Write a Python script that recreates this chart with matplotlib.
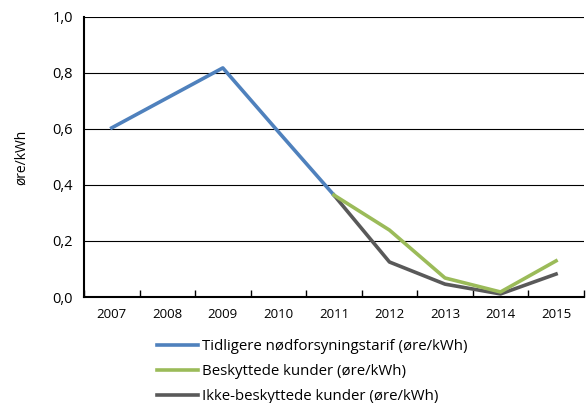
import numpy as np
import matplotlib.pyplot as plt

plt.rcParams['font.family'] = ['Open Sans', 'DejaVu Sans']

years = ['2007', '2008', '2009', '2010', '2011', '2012', '2013', '2014', '2015']
tidligere = [0.604, 0.711, 0.818, 0.59, 0.364, np.nan, np.nan, np.nan, np.nan]
beskyttede = [np.nan, np.nan, np.nan, np.nan, 0.364, 0.239, 0.068, 0.018, 0.129]
ikke_beskyttede = [np.nan, np.nan, np.nan, np.nan, 0.364, 0.125, 0.046, 0.011, 0.082]

fig = plt.figure(figsize=(5.86, 4.03), dpi=100)
ax = fig.add_axes([0.1433, 0.263, 0.853, 0.695])

x = np.arange(len(years))
ax.plot(x, tidligere, color='#4f81bd', lw=2.6, label='Tidligere nødforsyningstarif (øre/kWh)', zorder=3)
ax.plot(x, beskyttede, color='#9bbb59', lw=2.6, label='Beskyttede kunder (øre/kWh)', zorder=3)
ax.plot(x, ikke_beskyttede, color='#595959', lw=2.6, label='Ikke-beskyttede kunder (øre/kWh)', zorder=2)

ax.set_xlim(-0.5, len(years) - 0.5)
ax.set_ylim(0, 1.0)
ax.set_yticks(np.arange(0, 1.01, 0.2))
ax.set_yticklabels([f'{v:.1f}'.replace('.', ',') for v in np.arange(0, 1.01, 0.2)], fontsize=10.5)
ax.set_xticks(x)
ax.set_xticklabels(years, fontsize=9.5)
ax.set_xticks(np.arange(-0.5, len(years), 1), minor=True)
ax.tick_params(axis='x', which='major', length=0, pad=8)
ax.tick_params(axis='x', which='minor', direction='in', length=5, width=1)
ax.tick_params(axis='y', length=0, pad=8)
ax.grid(axis='y', color='black', lw=0.8)
ax.set_axisbelow(True)
for s in ['top', 'right']:
    ax.spines[s].set_visible(False)
ax.spines['left'].set_linewidth(1.5)
ax.spines['bottom'].set_linewidth(1.5)
ax.set_ylabel('øre/kWh', fontsize=10, labelpad=17)

ax.legend(loc='upper left', bbox_to_anchor=(0.135, -0.13), frameon=False, fontsize=10.8,
          handlelength=2.7, handletextpad=0.3, labelspacing=0.65, borderaxespad=0)

fig.savefig('out.png', dpi=100)
